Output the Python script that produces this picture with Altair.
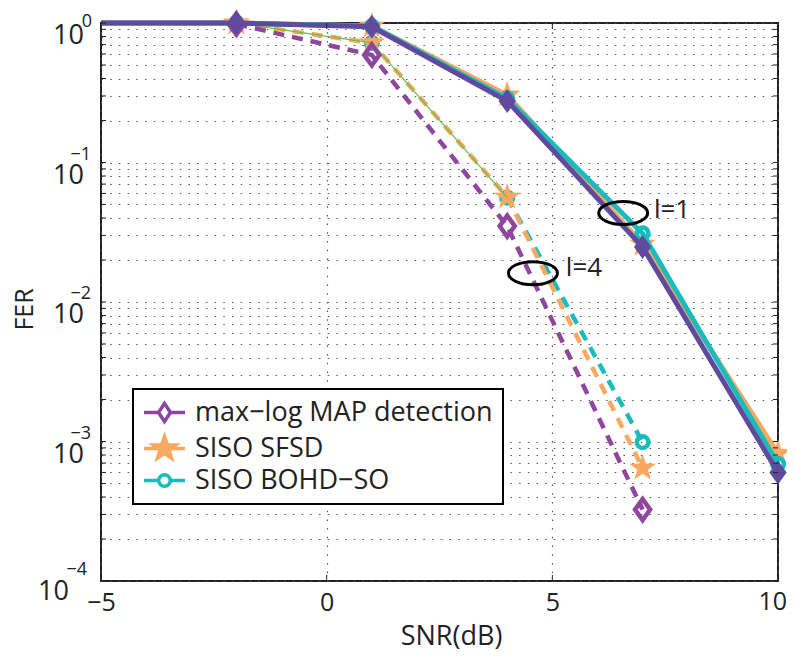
import math
import altair as alt
import pandas as pd

# ---------------- data ----------------
series_names = ["max\u2212log MAP detection", "SISO SFSD", "SISO BOHD\u2212SO"]

snr_l1 = [-5, -2, 1, 4, 7, 10]
maxlog_l1 = [1.0, 1.0, 0.94, 0.276, 0.0248, 6.0e-4]
sfsd_l1 = [1.0, 1.0, 0.95, 0.305, 0.026, 8.2e-4]
bohd_l1 = [1.0, 1.0, 0.95, 0.288, 0.031, 6.9e-4]

snr_l4 = [-2, 1, 4, 7]
maxlog_l4 = [0.98, 0.59, 0.035, 3.25e-4]
sfsd_l4 = [1.0, 0.72, 0.0566, 6.45e-4]
bohd_l4 = [1.0, 0.72, 0.056, 9.9e-4]

ann_text = ["l=1", "l=4"]
ann_snr = [7.25, 5.30]
ann_fer = [0.0457, 0.0175]
ell_snr = [6.57, 4.57]
ell_fer = [0.0435, 0.0161]

x_ticks = [-5, 0, 5, 10]
y_decades = [1, 0.1, 0.01, 0.001, 0.0001]
y_exponents = ["0", "\u22121", "\u22122", "\u22123", "\u22124"]
y_grid = [m * 10.0 ** e for e in range(-4, 0) for m in range(1, 10)] + [1.0]

# ---------------- styling ----------------
W, H = 677, 558
FONT = "Open Sans"
TXT = "#222222"
PURPLE1 = "#5f4a9e"
PURPLE4 = "#8f469d"
PURPLE_LEG = "#8b47a0"
ORANGE = "#f9a862"
TEAL = "#19bcbd"
GREEN = "#6abf4b"

diamond_path = "M0,-1L0.72,0L0,1L-0.72,0Z"


def star(R, r=0.40):
    pts = []
    for i in range(10):
        ang = math.radians(-90 + 36 * i)
        rad = R if i % 2 == 0 else R * r
        pts.append(f"{rad * math.cos(ang):.3f},{rad * math.sin(ang):.3f}")
    return "M" + "L".join(pts) + "Z"


star_path = star(1.0)
ellipse_path = "M-1,0A1,0.47,0,1,1,1,0A1,0.47,0,1,1,-1,0Z"

leg_diamond = "M-1.95,0H-0.57M0.57,0H1.95M0,-0.86L0.57,0L0,0.86L-0.57,0Z"
leg_star = "M-1.95,0H1.95" + star(1.14)
leg_circle = ("M-1.95,0H-0.55M0.55,0H1.95"
              "M-0.55,0A0.55,0.55,0,1,1,0.55,0A0.55,0.55,0,1,1,-0.55,0Z")

# ---------------- tables ----------------
rows = []
for key, xs, ys in [("ml1", snr_l1, maxlog_l1), ("sf1", snr_l1, sfsd_l1),
                    ("bo1", snr_l1, bohd_l1), ("ml4", snr_l4, maxlog_l4),
                    ("sf4", snr_l4, sfsd_l4), ("bo4", snr_l4, bohd_l4)]:
    for a, b in zip(xs, ys):
        rows.append({"key": key, "snr": a, "fer": b})
df = pd.DataFrame(rows)

df_ann = pd.DataFrame({"snr": ann_snr, "fer": ann_fer, "txt": ann_text})
df_ell = pd.DataFrame({"snr": ell_snr, "fer": ell_fer})
df_dec = pd.DataFrame({"fer": y_decades, "base": ["10"] * len(y_decades), "exp": y_exponents})
df_ygrid = pd.DataFrame({"fer": y_grid})
df_xt = pd.DataFrame({"snr": x_ticks, "lab": [str(v).replace("-", "\u2212") for v in x_ticks]})
df_leg = pd.DataFrame({"series": series_names})

xscale = alt.Scale(domain=[-5, 10], nice=False, zero=False)
yscale = alt.Scale(type="log", domain=[1e-4, 1], nice=False)

X = alt.X("snr:Q", scale=xscale, title="SNR(dB)",
          axis=alt.Axis(values=x_ticks, grid=True, ticks=False, domain=False,
                        labelFlush=False, labelFontSize=25, labelPadding=9,
                        labelExpr="datum.value == 10 ? '' : datum.label",
                        titleFontSize=27, titleX=350, titleAlign="center",
                        titlePadding=8, gridDash=[1.5, 7.2], gridColor="#555",
                        gridWidth=1.2, labelColor=TXT, titleColor=TXT,
                        titleFontWeight="normal", labelFont=FONT, titleFont=FONT))
Y = alt.Y("fer:Q", scale=yscale, title="FER",
          axis=alt.Axis(values=y_grid, grid=True, ticks=False, domain=False,
                        labels=False, titleFontSize=25, titleX=-77, titleY=286,
                        titleAngle=270, titleAlign="center", titleBaseline="middle",
                        gridDash=[1.5, 7.2], gridColor="#555", gridWidth=1.2,
                        titleColor=TXT, titleFontWeight="normal", titleFont=FONT))

base = alt.Chart(df)


def line(key, color, width, dash=None, flt=None):
    ch = base.transform_filter(f"datum.key == '{key}'")
    if flt:
        ch = ch.transform_filter(flt)
    kw = dict(color=color, strokeWidth=width, strokeCap="butt")
    if dash:
        kw["strokeDash"] = dash
    return ch.mark_line(**kw).encode(x=X, y=Y, order="snr:Q")


def pts(key, **kw):
    return (base.transform_filter(f"datum.key == '{key}'")
            .transform_filter("datum.snr > -5")
            .mark_point(opacity=1, **kw).encode(x=X, y=Y))


DASH = [11, 8]
LW = 5
layers = [
    line("sf1", ORANGE, LW),
    pts("sf1", shape=star_path, size=784, filled=True, color=ORANGE),
    line("bo1", TEAL, LW),
    pts("bo1", shape="circle", size=137, filled=False, color=TEAL, strokeWidth=4.5),
    line("bo4", TEAL, 4.5, DASH, "datum.snr >= 4"),
    pts("bo4", shape="circle", size=137, filled=False, color=TEAL, strokeWidth=4.5),
    line("sf4", ORANGE, 4.5, DASH),
    pts("sf4", shape=star_path, size=784, filled=True, color=ORANGE),
    line("bo4", GREEN, 1.2, None, "datum.snr <= 4"),
    line("ml4", PURPLE4, 4.5, DASH),
    pts("ml4", shape=diamond_path, size=441, filled=False, color=PURPLE4, strokeWidth=4.5),
    line("ml1", PURPLE1, LW),
    pts("ml1", shape=diamond_path, size=576, filled=True, color=PURPLE1),
]

ellipses = alt.Chart(df_ell).mark_point(
    shape=ellipse_path, size=2401, filled=False, color="black", strokeWidth=3, opacity=1
).encode(x=X, y=Y)
ann = alt.Chart(df_ann).mark_text(
    align="left", baseline="middle", fontSize=26, font=FONT, color=TXT
).encode(x=X, y=Y, text="txt:N")

dec = alt.Chart(df_dec)
mid = "datum.fer > 0.0005 && datum.fer < 1"
ylab_base = dec.transform_filter("datum.fer > 0.0005").mark_text(
    align="right", baseline="middle", fontSize=27, font=FONT, color=TXT, dy=13
).encode(y=Y, x=alt.value(-17), text="base:N")
ylab_base_bot = dec.transform_filter("datum.fer < 0.0005").mark_text(
    align="right", baseline="middle", fontSize=27, font=FONT, color=TXT, dy=11
).encode(y=Y, x=alt.value(-32), text="base:N")
ylab_exp = dec.transform_filter(mid).mark_text(
    align="right", baseline="middle", fontSize=18, font=FONT, color=TXT, dy=-8
).encode(y=Y, x=alt.value(-10), text="exp:N")
ylab_exp_bot = dec.transform_filter("datum.fer < 0.0005").mark_text(
    align="right", baseline="middle", fontSize=18, font=FONT, color=TXT, dy=-11
).encode(y=Y, x=alt.value(-14), text="exp:N")
ylab_exp_top = dec.transform_filter("datum.fer >= 1").mark_text(
    align="right", baseline="middle", fontSize=18, font=FONT, color=TXT, dy=-1
).encode(y=Y, x=alt.value(-9), text="exp:N")

# last x tick label, nudged so it stays inside the page
xlab_last = alt.Chart(df_xt).transform_filter("datum.snr == 10").mark_text(
    align="right", baseline="top", fontSize=25, font=FONT, color=TXT, dx=9
).encode(x=X, y=alt.value(H + 9), text="lab:N")

tick_l = alt.Chart(df_ygrid).mark_rule(color="#222", strokeWidth=1).encode(
    y=Y, x=alt.value(0), x2=alt.value(5))
tick_r = alt.Chart(df_ygrid).mark_rule(color="#222", strokeWidth=1).encode(
    y=Y, x=alt.value(W - 5), x2=alt.value(W))
tick_b = alt.Chart(df_xt).mark_rule(color="#222", strokeWidth=1).encode(
    x=X, y=alt.value(H), y2=alt.value(H - 6))
tick_t = alt.Chart(df_xt).mark_rule(color="#222", strokeWidth=1).encode(
    x=X, y=alt.value(0), y2=alt.value(6))

leg = alt.Legend(title=None, orient="none", legendX=32, legendY=366,
                 labelFontSize=27, labelFont=FONT, labelColor=TXT, labelLimit=500,
                 symbolSize=441, symbolStrokeWidth=3.5, padding=10, rowPadding=0,
                 strokeColor="black", fillColor="white", symbolOffset=8,
                 labelOffset=17)
legend_layer = alt.Chart(df_leg).transform_filter("false").mark_point(
    opacity=1, strokeWidth=3.5, filled=False
).encode(
    shape=alt.Shape("series:N", scale=alt.Scale(domain=series_names,
                    range=[leg_diamond, leg_star, leg_circle]), legend=leg),
    stroke=alt.Stroke("series:N", scale=alt.Scale(domain=series_names,
                      range=[PURPLE_LEG, ORANGE, TEAL]), legend=leg),
    fill=alt.Fill("series:N", scale=alt.Scale(domain=series_names,
                  range=["white", ORANGE, "white"]), legend=leg),
)

chart = alt.layer(
    *layers, ellipses, ann, ylab_base, ylab_base_bot, ylab_exp, ylab_exp_bot,
    ylab_exp_top, xlab_last, tick_l, tick_r, tick_b, tick_t, legend_layer
).properties(
    width=W, height=H,
    autosize=alt.AutoSizeParams(type="none"),
    padding={"left": 93, "top": 15, "right": 9, "bottom": 70},
).configure(font=FONT).configure_view(
    stroke="#222", strokeWidth=2
).configure_legend(strokeWidth=2)

chart.save("out.html", embed_options={"renderer": "svg", "actions": False})
